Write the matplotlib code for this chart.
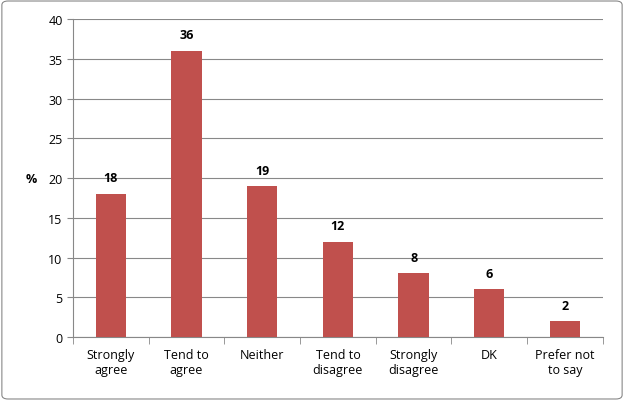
import matplotlib
matplotlib.use("Agg")
import matplotlib.pyplot as plt
from matplotlib.patches import FancyBboxPatch

categories = ["Strongly\nagree", "Tend to\nagree", "Neither", "Tend to\ndisagree", "Strongly\ndisagree", "DK", "Prefer not\nto say"]
values = [18, 36, 19, 12, 8, 6, 2]

plt.rcParams['font.family'] = ['Open Sans', 'DejaVu Sans']
fig = plt.figure(figsize=(6.24, 4.02), dpi=100)
ax = fig.add_axes([0.117, 0.159, 0.849, 0.791])
fig.patches.append(FancyBboxPatch((0.003, 0.005), 0.994, 0.99, boxstyle="round,pad=0,rounding_size=0.01",
                                  transform=fig.transFigure, fill=False, edgecolor="#888888", lw=0.8))
x = range(len(values))
ax.bar(x, values, width=0.4, color="#C0504D", zorder=3)
for i, v in zip(x, values):
    ax.text(i, v + 1.2, str(v), ha="center", va="bottom", fontsize=9, fontweight="bold")
ax.set_xlim(-0.5, len(values) - 0.5)
ax.set_ylim(0, 40)
ax.set_yticks(range(0, 41, 5))
ax.grid(axis="y", color="#888888", lw=0.8, zorder=0)
ax.set_xticks(list(x))
ax.set_xticklabels(categories, fontsize=9)
ax.set_xticks([i + 0.5 for i in range(-1, len(values))], minor=True)
ax.tick_params(axis="x", which="major", length=0, pad=8)
ax.tick_params(axis="x", which="minor", length=5, color="#888888")
ax.tick_params(axis="y", labelsize=9, length=4, color="#888888")
for s in ["top", "right"]:
    ax.spines[s].set_visible(False)
for s in ["left", "bottom"]:
    ax.spines[s].set_color("#888888")
ax.set_ylabel("%", rotation=0, fontsize=9, fontweight="bold", labelpad=12, va="center")
fig.savefig("out.png", dpi=100)
